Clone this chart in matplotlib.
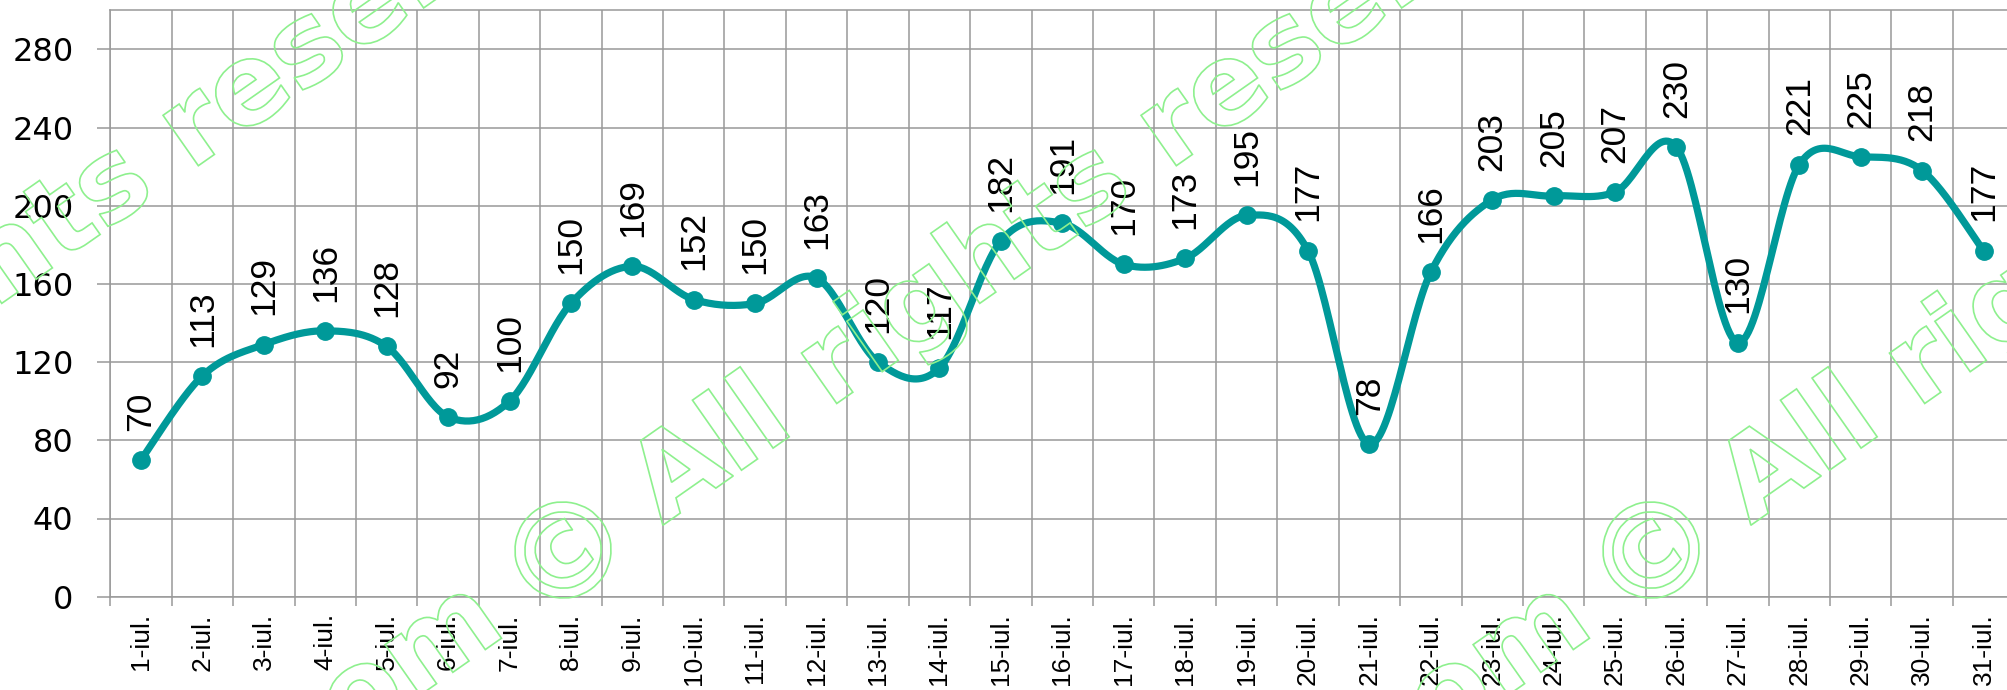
import numpy as np
import matplotlib
matplotlib.use("Agg")
import matplotlib.pyplot as plt
from matplotlib.textpath import TextPath
from matplotlib.patches import PathPatch
from matplotlib.font_manager import FontProperties
from matplotlib.transforms import Affine2D

# data
days = [f"{d}-iul." for d in range(1, 32)]
values = [70, 113, 129, 136, 128, 92, 100, 150, 169, 152, 150, 163, 120, 117,
          182, 191, 170, 173, 195, 177, 78, 166, 203, 205, 207, 230, 130, 221,
          225, 218, 177]
y_ticks = [0, 40, 80, 120, 160, 200, 240, 280]

teal = "#009999"
grid = "#999999"
wm_color = "#8ef08e"

W, H, DPI = 2008, 690, 100


def smooth_line(xs, ys, steps=30):
    # excel-like smoothed line: bezier segments with catmull-rom controls
    xs = np.asarray(xs, float)
    ys = np.asarray(ys, float)
    n = len(xs)
    px, py = [], []
    t = np.linspace(0, 1, steps)
    for i in range(n - 1):
        i0, i3 = max(i - 1, 0), min(i + 2, n - 1)
        p0 = np.array([xs[i], ys[i]])
        p3 = np.array([xs[i + 1], ys[i + 1]])
        c1 = p0 + (p3 - np.array([xs[i0], ys[i0]])) / 6
        c2 = p3 - (np.array([xs[i3], ys[i3]]) - p0) / 6
        b = ((1 - t) ** 3)[:, None] * p0 + (3 * (1 - t) ** 2 * t)[:, None] * c1 \
            + (3 * (1 - t) * t ** 2)[:, None] * c2 + (t ** 3)[:, None] * p3
        px.extend(b[:, 0])
        py.extend(b[:, 1])
    return px, py


fig = plt.figure(figsize=(W / DPI, H / DPI), dpi=DPI)
ax = fig.add_axes([110.3 / W, 93.3 / H, 1904 / W, 586.5 / H])

x = np.arange(len(values))
sx, sy = smooth_line(x, values)
ax.plot(sx, sy, color=teal, lw=5.2, solid_capstyle="round", zorder=3)
ax.plot(x, values, "o", color=teal, ms=12.5, zorder=4)

for xi, v in zip(x, values):
    ax.annotate(str(v), (xi, v), xytext=(0, 21), textcoords="offset points",
                rotation=90, ha="center", va="bottom", fontsize=25.5,
                family="Liberation Sans", zorder=5)

ax.set_xlim(-0.5, len(values) - 0.5)
ax.set_ylim(0, 300)

ax.set_xticks(x)
ax.set_xticklabels(days, rotation=90, fontsize=19, family="Liberation Sans")
ax.set_xticks(np.arange(-0.5, len(values), 1), minor=True)
ax.tick_params(axis="x", which="major", length=0, pad=12)
ax.tick_params(axis="x", which="minor", length=6.5, width=1.1, color=grid)

ax.set_yticks(y_ticks)
ax.set_yticklabels([str(v) for v in y_ticks], fontsize=23, family="DejaVu Sans")
ax.tick_params(axis="y", length=9.5, width=1.1, color=grid, pad=17)

ax.xaxis.grid(True, which="minor", color=grid, lw=1.1)
ax.yaxis.grid(True, which="major", color=grid, lw=1.1)
ax.set_axisbelow(True)
for side in ["left", "bottom", "top"]:
    ax.spines[side].set_color(grid)
    ax.spines[side].set_linewidth(1.1)
ax.spines["right"].set_visible(False)


def watermark(cx, cy, size=81):
    # outlined text "...om (c) All rights reserved", rotated 35 deg,
    # placed around the copyright sign centre (cx, cy) in image pixels
    fp = FontProperties(family="DejaVu Sans", weight="bold")
    k = 72 / DPI  # pixels -> path units
    base = -37 * k
    left = TextPath((0, 0), "om", size=size, prop=fp)
    right = TextPath((0, 0), "All rights reserved", size=size, prop=fp)
    copy = TextPath((0, 0), "\u00a9", size=size, prop=fp)
    ce = copy.get_extents()
    s = 96 * k / ce.width
    rot = Affine2D().scale(DPI / 72).rotate_deg(35).translate(cx, H - cy)
    parts = [
        (left, Affine2D().translate(-101 * k - left.get_extents().x1, base)),
        (right, Affine2D().translate(96 * k - right.get_extents().x0, base)),
        (copy, Affine2D().translate(-(ce.x0 + ce.x1) / 2,
                                    -(ce.y0 + ce.y1) / 2).scale(s)),
    ]
    for p, tr in parts:
        fig.add_artist(PathPatch(p, fc="none", ec=wm_color, lw=1.2,
                                 transform=tr + rot, zorder=10))


for cx in [-415, 563, 1651]:
    watermark(cx, 550)

fig.savefig("out.png", dpi=DPI)
